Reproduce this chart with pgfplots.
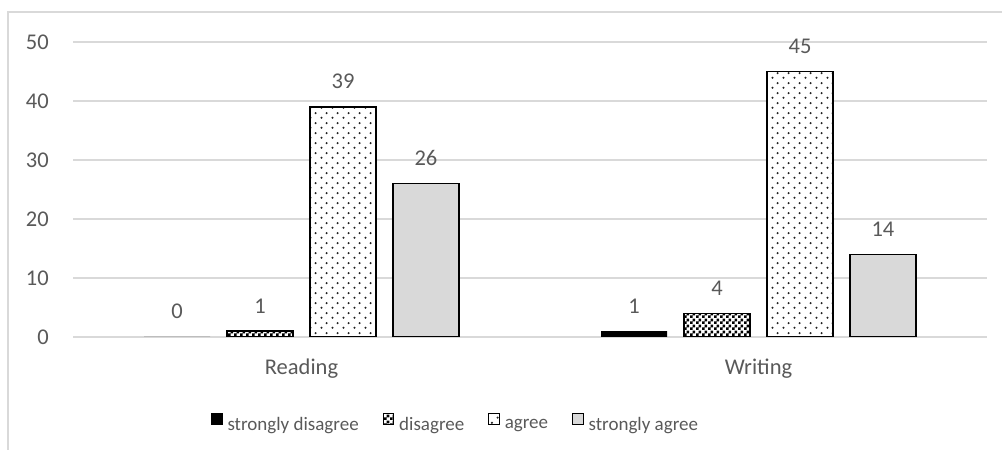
\documentclass[border=0pt]{standalone}
\usepackage{fontspec}
\setmainfont{Carlito}
\usepackage{pgfplots}
\pgfplotsset{compat=1.18}
\usetikzlibrary{patterns.meta}

\definecolor{txt}{HTML}{595959}
\definecolor{gridc}{HTML}{D9D9D9}
\definecolor{sagree}{HTML}{D9D9D9}
\definecolor{dotc}{HTML}{202020}

% small checkerboard
\pgfdeclarepattern{
  name=smallchecker,
  bottom left={\pgfpointorigin},
  top right={\pgfpoint{6bp}{6bp}},
  tile size={\pgfpoint{6bp}{6bp}},
  code={
    \pgfpathrectangle{\pgfpointorigin}{\pgfpoint{3bp}{3bp}}
    \pgfpathrectangle{\pgfpoint{3bp}{3bp}}{\pgfpoint{3bp}{3bp}}
    \pgfusepath{fill}
  }
}
% staggered dots
\pgfdeclarepattern{
  name=stagdots,
  bottom left={\pgfpointorigin},
  top right={\pgfpoint{11bp}{10bp}},
  tile size={\pgfpoint{11bp}{10bp}},
  code={
    \pgfpathcircle{\pgfpoint{2.75bp}{2.5bp}}{1.25bp}
    \pgfpathcircle{\pgfpoint{8.25bp}{7.5bp}}{1.25bp}
    \pgfusepath{fill}
  }
}

\begin{document}
\begin{tikzpicture}[x=1bp,y=1bp]
\begin{axis}[
  at={(73bp,113bp)}, anchor=south west,
  scale only axis, width=914bp, height=295bp,
  xmin=-0.5, xmax=1.5, ymin=0, ymax=50,
  xtick={0,1}, xticklabels={Reading,Writing},
  ytick={0,10,...,50},
  major tick length=0pt,
  axis line style={draw=none},
  xmajorgrids=false, ymajorgrids=true,
  major grid style={draw=gridc, line width=1.3bp},
  /pgf/number format/assume math mode=true,
  ticklabel style={font=\fontsize{22.5bp}{27bp}\selectfont, text=txt},
  yticklabel style={inner sep=0pt, xshift=-24bp},
  xticklabel style={inner sep=0pt, anchor=base, yshift=-38bp},
  ybar, bar width=0.1444,
  nodes near coords,
  nodes near coords style={font=\fontsize{22.5bp}{27bp}\selectfont, text=txt, anchor=base, inner sep=0pt, yshift=18bp},
  legend columns=-1,
  legend style={at={(rel axis cs:0.151,-0.29)}, anchor=west, draw=none, fill=none,
    inner sep=0pt, outer sep=0pt,
    nodes={inner sep=0pt, font=\fontsize{19bp}{23bp}\selectfont, text=txt},
    /tikz/every odd column/.append style={column sep=5bp},
    /tikz/every even column/.append style={column sep=24bp}},
  legend image code/.code={\draw[#1, line width=1bp] (0bp,0bp) rectangle (10.5bp,10.5bp);},
]
\addplot[fill=black, draw=none, bar shift=-0.2724] coordinates {(0,0) (1,1)};
\addplot[draw=black, line width=1.4bp, fill=white, postaction={pattern={smallchecker}, pattern color=black}, bar shift=-0.0908] coordinates {(0,1) (1,4)};
\addplot[draw=black, line width=1.4bp, fill=white, postaction={pattern={stagdots}, pattern color=dotc}, bar shift=0.0908] coordinates {(0,39) (1,45)};
\addplot[draw=black, line width=1.4bp, fill=sagree, bar shift=0.2724] coordinates {(0,26) (1,14)};
\legend{strongly disagree, disagree, agree, strongly agree}
\end{axis}
\draw[gridc, line width=1.3bp] (8bp,-20bp) -- (8bp,438bp) -- (1020bp,438bp);
\pgfresetboundingbox
\useasboundingbox (0,0) rectangle (1002bp,450bp);
\end{tikzpicture}
\end{document}
